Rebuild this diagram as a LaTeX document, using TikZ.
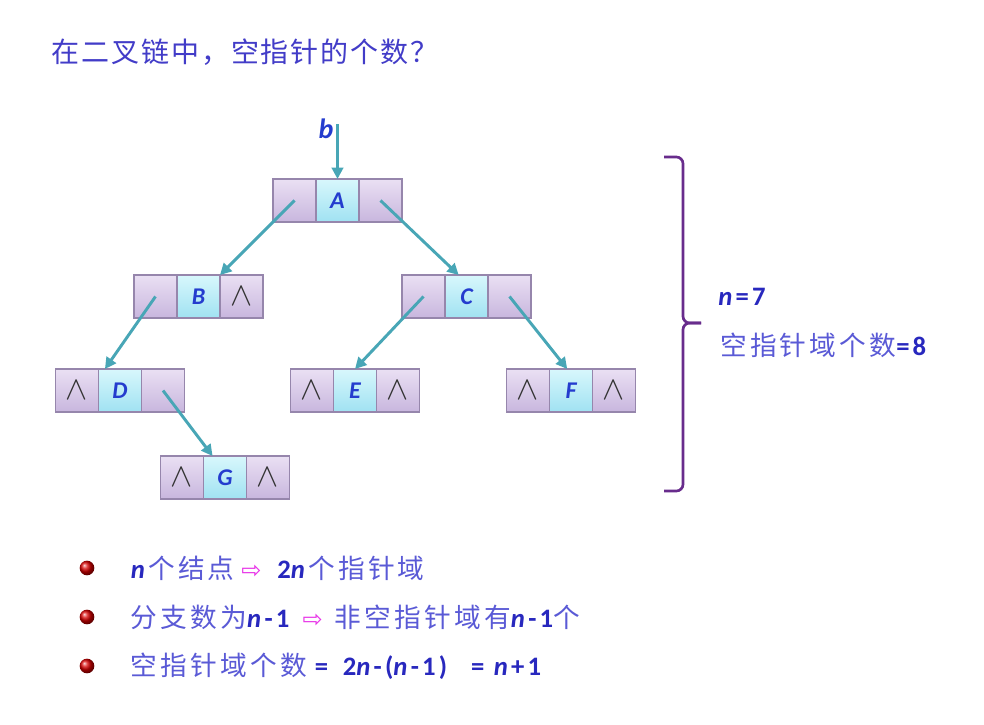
\documentclass[tikz,border=0pt]{standalone}
\usepackage{fontspec}
\setmainfont{Noto Sans CJK SC}[LetterSpace=12]
\newfontfamily\lat{Carlito}[LetterSpace=12]
\newfontfamily\sym{DejaVu Sans}
\usetikzlibrary{positioning,arrows.meta}

\definecolor{titleblue}{RGB}{66,60,200}
\definecolor{textblue}{RGB}{90,90,214}
\definecolor{darkblue}{RGB}{40,40,190}
\definecolor{letterblue}{RGB}{36,60,206}
\definecolor{linkteal}{RGB}{72,166,182}
\definecolor{bracepurple}{RGB}{104,44,140}
\definecolor{cellline}{RGB}{150,134,172}
\definecolor{ptrtop}{RGB}{234,224,243}
\definecolor{ptrbot}{RGB}{200,182,222}
\definecolor{midtop}{RGB}{216,247,252}
\definecolor{midbot}{RGB}{160,226,242}
\definecolor{arrowpink}{RGB}{232,52,232}

\newcommand\nv{{\lat\bfseries\itshape\fontsize{20}{20}\selectfont\color{darkblue}n}\kern2.5pt}
\newcommand\lb[1]{{\lat\bfseries\fontsize{20}{20}\selectfont\color{darkblue}#1}}
\newcommand\pk{{\sym\fontsize{18}{18}\selectfont\color{arrowpink}⇨}}

\tikzset{
  cell/.style={draw=cellline, line width=1pt, outer sep=0pt, inner sep=0pt,
    minimum width=32.25pt, minimum height=32.25pt,
    top color=ptrtop, bottom color=ptrbot, text=black!80,
    font=\fontsize{26}{26}\selectfont},
  mid/.style={cell, top color=midtop, bottom color=midbot, text=letterblue,
    font=\lat\bfseries\itshape\fontsize{18}{18}\selectfont},
  link/.style={-{Triangle[length=8.5pt,width=8.5pt]}, line width=2.2pt, color=linkteal},
  brace/.style={draw=bracepurple, line width=2pt, rounded corners=5pt},
  txt/.style={inner sep=0pt, anchor=west, text=textblue,
    font=\fontsize{20}{22}\selectfont},
  dot/.style={circle, inner sep=0pt, minimum size=11pt, ball color=red!85!black, shade}
}

\begin{document}
\begin{tikzpicture}[x=0.75pt, y=-0.75pt]
\useasboundingbox[fill=white] (0,0) rectangle (984,724);

\node (title) [txt, text=titleblue, font=\addfontfeature{LetterSpace=7}\fontsize{21}{22}\selectfont] at (51,52) {在二叉链中，空指针的个数？};

% tree nodes
\node (Am) [mid] at (337.5,200.5) {A};
\node (Al) [cell, left=0pt of Am] {};
\node (Ar) [cell, right=0pt of Am] {};
\node (Bm) [mid] at (198.5,296.5) {B};
\node (Bl) [cell, left=0pt of Bm] {};
\node (Br) [cell, right=0pt of Bm] {$\wedge$};
\node (Cm) [mid] at (466.5,296.5) {C};
\node (Cl) [cell, left=0pt of Cm] {};
\node (Cr) [cell, right=0pt of Cm] {};
\node (Dm) [mid] at (120,390.5) {D};
\node (Dl) [cell, left=0pt of Dm] {$\wedge$};
\node (Dr) [cell, right=0pt of Dm] {};
\node (Em) [mid] at (355,390.5) {E};
\node (El) [cell, left=0pt of Em] {$\wedge$};
\node (Er) [cell, right=0pt of Em] {$\wedge$};
\node (Fm) [mid] at (571,390.5) {F};
\node (Fl) [cell, left=0pt of Fm] {$\wedge$};
\node (Fr) [cell, right=0pt of Fm] {$\wedge$};
\node (Gm) [mid] at (225,477.5) {G};
\node (Gl) [cell, left=0pt of Gm] {$\wedge$};
\node (Gr) [cell, right=0pt of Gm] {$\wedge$};

\node (b) [text=letterblue, font=\lat\bfseries\itshape\fontsize{21}{21}\selectfont] at (326,129) {b};
\coordinate (bs) at (337.5,124);

\path[link] (bs) edge (Am.north)
  (Al.center) edge (Bm.45)
  (Ar.center) edge (Cm.110)
  (Bl.center) edge (Dm.125)
  (Dr.center) edge (Gm.120)
  (Cl.center) edge (Em.90)
  (Cr.center) edge (Fm.100);

% brace and count
\draw[brace] (664,157) -- (683,157) -- (683,323) -- (701,323);
\draw[brace] (701,323) -- (683,323) -- (683,491) -- (664,491);
\node (nval) [txt] at (718,297) {\nv\lb{=7}};
\node (nullcnt) [txt] at (720,345) {空指针域个数\lb{=8}};

% bullets
\node (dot1) [dot] at (87,568) {};
\node (dot2) [dot] at (87,617) {};
\node (dot3) [dot] at (87,666) {};
\node (line1) [txt, right=27pt of dot1] {\nv 个结点\hspace{5pt}\pk\hspace{12pt}\lb{2}\nv 个指针域};
\node (line2) [txt, right=27pt of dot2] {分支数为\nv\lb{-1}\hspace{10pt}\pk\hspace{9pt}非空指针域有\nv\lb{-1}个};
\node (line3) [txt, right=27pt of dot3] {空指针域个数\hspace{6pt}\lb{=}\hspace{11pt}\lb{2}\nv\lb{-(}\nv\lb{-1)}\hspace{18pt}\lb{=}\hspace{7pt}\nv\lb{+1}};
\end{tikzpicture}
\end{document}
